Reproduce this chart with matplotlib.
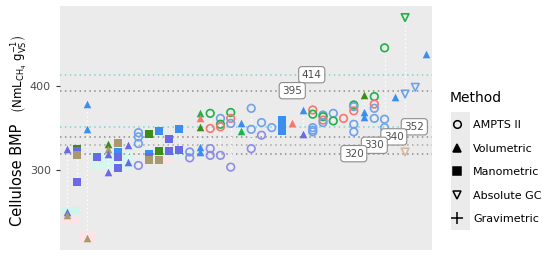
import matplotlib.pyplot as plt
from matplotlib.lines import Line2D
from matplotlib.patches import Rectangle

plt.rcParams['mathtext.fontset'] = 'dejavusans'

# colours used for the points
RED = '#F8766D'
GREEN = '#1DB34A'
DKGREEN = '#3A8C1C'
OLIVE = '#A89A6E'
BLUE = '#3B8EF0'
PURPLE = '#6A6AE6'
LTBLUE = '#6FA2EA'
LTPURP = '#8D8DE8'
LTOLIVE = '#D8B8A0'

# method -> marker
markers = {'AMPTS II': 'o', 'Volumetric': '^', 'Manometric': 's',
           'Absolute GC': 'v', 'Gravimetric': '+'}

# one entry per lab (column)
lab_method = ['Volumetric', 'Manometric', 'Volumetric', 'Manometric', 'Volumetric',
              'Manometric', 'Volumetric', 'AMPTS II', 'Manometric', 'Manometric',
              'Manometric', 'Manometric', 'AMPTS II', 'Volumetric', 'AMPTS II',
              'AMPTS II', 'AMPTS II', 'Volumetric', 'AMPTS II', 'AMPTS II',
              'AMPTS II', 'Manometric', 'Volumetric', 'Volumetric', 'AMPTS II',
              'AMPTS II', 'AMPTS II', 'AMPTS II', 'AMPTS II', 'Volumetric',
              'AMPTS II', 'AMPTS II', 'Volumetric', 'Absolute GC', 'Absolute GC',
              'Volumetric']

lab_values = [
    [326, 251, 247],
    [326, 323, 318, 286],
    [379, 349, 220],
    [316],
    [331, 326, 320, 298],
    [333, 322, 316, 303],
    [330, 310],
    [345, 340, 332, 306],
    [343, 320, 316, 312],
    [347, 323, 312],
    [337, 323],
    [349, 324],
    [322, 315],
    [368, 363, 352, 328, 322],
    [368, 350, 326, 318],
    [362, 355, 352, 318],
    [369, 362, 356, 304],
    [356, 347],
    [374, 349, 326],
    [357, 342],
    [351],
    [360, 354, 347],
    [356],
    [372, 343],
    [372, 367, 351, 348, 346],
    [366, 364, 360, 357],
    [368, 359],
    [362],
    [378, 376, 371, 355, 346],
    [390, 370, 364],
    [388, 379, 374, 362],
    [446, 361, 351],
    [388],
    [482, 391, 322],
    [399],
    [439],
]

lab_colors = [
    [PURPLE, PURPLE, OLIVE],
    [DKGREEN, PURPLE, OLIVE, PURPLE],
    [BLUE, BLUE, OLIVE],
    [PURPLE],
    [DKGREEN, OLIVE, PURPLE, PURPLE],
    [OLIVE, BLUE, PURPLE, PURPLE],
    [PURPLE, PURPLE],
    [LTBLUE, LTBLUE, LTBLUE, LTPURP],
    [DKGREEN, BLUE, PURPLE, OLIVE],
    [BLUE, DKGREEN, OLIVE],
    [PURPLE, PURPLE],
    [BLUE, PURPLE],
    [LTPURP, LTPURP],
    [GREEN, RED, DKGREEN, BLUE, BLUE],
    [GREEN, RED, LTPURP, LTPURP],
    [LTBLUE, GREEN, RED, LTPURP],
    [GREEN, RED, LTBLUE, LTPURP],
    [BLUE, GREEN],
    [LTBLUE, LTBLUE, LTPURP],
    [LTBLUE, LTPURP],
    [LTBLUE],
    [BLUE, BLUE, BLUE],
    [RED],
    [BLUE, PURPLE],
    [RED, GREEN, LTBLUE, LTBLUE, LTBLUE],
    [LTBLUE, GREEN, RED, LTBLUE],
    [LTBLUE, GREEN],
    [RED],
    [GREEN, LTBLUE, RED, LTBLUE, LTBLUE],
    [DKGREEN, BLUE, BLUE],
    [GREEN, RED, LTBLUE, LTBLUE],
    [GREEN, LTBLUE, LTBLUE],
    [BLUE],
    [GREEN, LTBLUE, LTOLIVE],
    [LTBLUE],
    [BLUE],
]

# reference lines and their labels
ref_values = [414, 395, 352, 340, 330, 320]
ref_colors = ['#7FD3D3', '#8C8C8C', '#7FD3D3', '#8C8C8C', '#A8A8A8', '#8C8C8C']
ref_label_x = [23.9, 22.0, 33.9, 31.9, 30.0, 28.0]

# light range boxes: (x0, x1, y0, y1, colour)
boxes = [
    (-0.45, 1.3, 247, 257, '#CFF5EC'),
    (-0.45, 1.3, 238, 247, '#FBE3E8'),
    (1.3, 2.8, 212, 228, '#FBE3E8'),
    (2.5, 6.6, 300, 322, '#D6F6EE'),
    (7.5, 12.5, 316, 324, '#D6F6EE'),
    (8.6, 10.5, 308, 316, '#FBE3E8'),
    (16.6, 17.5, 344, 352, '#D6F6EE'),
]

fig = plt.figure(figsize=(5.5, 2.58), dpi=100)
ax = fig.add_axes([0.109, 0.031, 0.676, 0.946])
ax.set_facecolor('#EBEBEB')

for x0, x1, y0, y1, c in boxes:
    ax.fill_between([x0, x1], y0, y1, color=c, lw=0, zorder=1)

for v, c in zip(ref_values, ref_colors):
    ax.axhline(v, color=c, ls=(0, (1, 2.2)), lw=1.1, zorder=2)

for i, vals in enumerate(lab_values):
    if len(vals) > 1:
        ax.plot([i, i], [min(vals), max(vals)], color='white', ls=(0, (1, 2)),
                lw=1.0, zorder=2)
    m = markers[lab_method[i]]
    for v, c in zip(vals, lab_colors[i]):
        if m in ('o', 'v'):
            ax.scatter(i, v, marker=m, s=30, facecolors='none', edgecolors=c,
                       linewidths=1.2, zorder=3)
        elif m == '+':
            ax.scatter(i, v, marker=m, s=60, color=c, linewidths=1.3, zorder=3)
        else:
            ax.scatter(i, v, marker=m, s=30, color=c, linewidths=0, zorder=3)

for v, x in zip(ref_values, ref_label_x):
    ax.text(x, v, str(v), ha='center', va='center', fontsize=7.5, color='#4D4D4D',
            zorder=5, bbox=dict(boxstyle='round,pad=0.3', fc='white', ec='#8C8C8C', lw=0.8))

ax.set_xlim(-0.65, 35.6)
ax.set_ylim(205.3, 495.9)
ax.set_xticks([])
ax.set_yticks([300, 400])
ax.tick_params(axis='y', colors='#333333', labelcolor='#4D4D4D', labelsize=8, length=3)
for s in ax.spines.values():
    s.set_visible(False)

# y axis title in two pieces so the unit part can be smaller
fig.text(18 / 550, 1 - 226 / 258, 'Cellulose BMP', rotation=90, ha='center',
         va='bottom', fontsize=10.5)
fig.text(19 / 550, 1 - 113 / 258,
         r'$\left(\mathrm{NmL_{CH_4}}\ \mathrm{g_{VS}^{-1}}\right)$',
         rotation=90, ha='center', va='bottom', fontsize=8.5)

# grey backdrop behind the legend keys
fig.patches.append(Rectangle((451 / 550, 1 - 230 / 258), 19 / 550, 118 / 258,
                             transform=fig.transFigure, fc='#EBEBEB', lw=0, zorder=0))

handles = [Line2D([], [], ls='none', marker=markers[k], color='black',
                  markerfacecolor='none' if markers[k] in ('o', 'v') else 'black',
                  markersize=5.5 if markers[k] != '+' else 8, mew=1.1)
           for k in markers]
leg = fig.legend(handles, list(markers.keys()), title='Method', loc='upper left',
                 bbox_to_anchor=(0.81, 0.665), frameon=False, fontsize=8,
                 title_fontsize=10, handlelength=1.2, handletextpad=0.9,
                 labelspacing=1.22, borderaxespad=0)
leg._legend_box.align = 'left'
leg._legend_box.sep = 11

fig.savefig('out.png', dpi=100)
